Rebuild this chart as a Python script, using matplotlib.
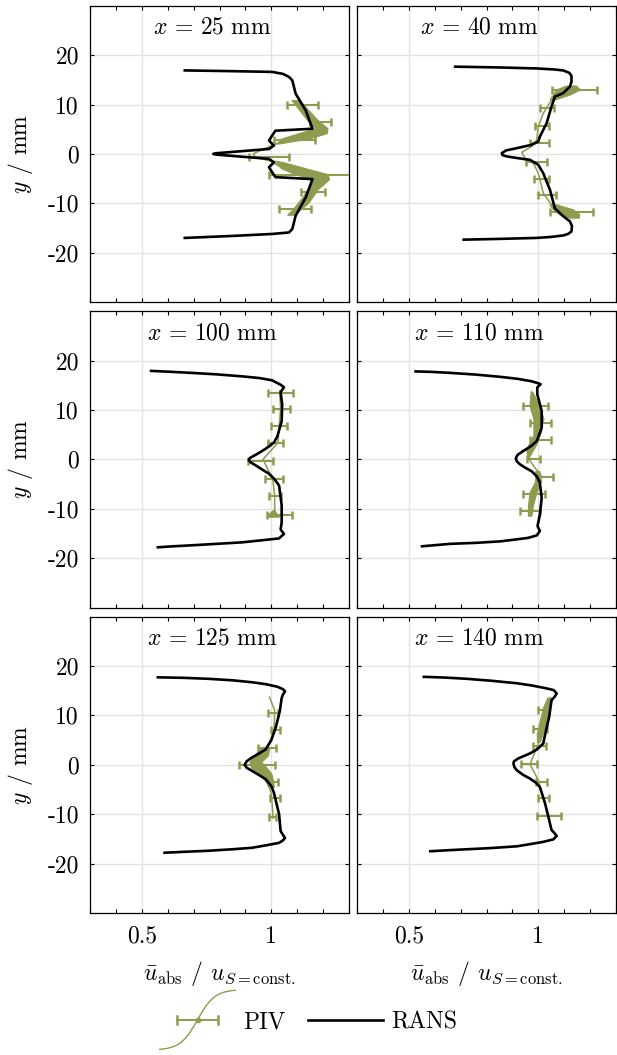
import numpy as np
import matplotlib.pyplot as plt
from matplotlib.legend_handler import HandlerBase
from matplotlib.lines import Line2D

plt.rcParams['font.family'] = 'cmr10'
plt.rcParams['mathtext.fontset'] = 'cm'
plt.rcParams['axes.formatter.use_mathtext'] = True

# axial positions of the six profiles
x_pos = [25, 40, 100, 110, 125, 140]

xticks = [0.5, 1.0]
xtick_labels = ['0.5', '1']
yticks = [-20, -10, 0, 10, 20]
ytick_labels = ['-20', '-10', '0', '10', '20']

# ---- x = 25 mm
rans_y_25 = [16.9, 16.75, 16.6, 16.2, 15.6, 14.9, 12.2, 8.8, 5.1, 4.7, 3.7, 2.7, 1.7, 1.0, 0.45, 0.15, 0.0,
             -0.15, -0.45, -1.0, -1.7, -2.7, -3.7, -4.7, -5.1, -8.8, -12.5, -15.2, -15.9, -16.2, -16.6, -17.0]
rans_u_25 = [0.666, 0.85, 1.003, 1.045, 1.068, 1.081, 1.094, 1.133, 1.159, 1.016, 1.003, 0.991, 1.010, 0.991, 0.86, 0.79, 0.776,
             0.79, 0.86, 0.991, 1.010, 0.991, 1.003, 1.016, 1.159, 1.133, 1.094, 1.081, 1.068, 1.003, 0.85, 0.666]
piv_y_25 = [10.8, 6.8, 4.8, 3.4, 2.3, 1.0, 0.0, -0.7, -1.5, -2.5, -3.5, -4.6, -6.5, -9.0, -12.4]
piv_u_25 = [1.09, 1.16, 1.19, 1.10, 1.03, 0.97, 0.93, 0.94, 1.00, 1.03, 1.10, 1.19, 1.17, 1.12, 1.07]
band_y_25 = [10.8, 6.8, 5.1, 4.1, 3.0, 2.35, 2.0, np.nan, -1.5, -1.8, -3.0, -4.2, -5.2, -7.3, -10.0, -12.4]
band_lo_25 = [1.08, 1.14, 1.173, 1.108, 1.04, 1.029, 1.02, np.nan, 1.01, 1.02, 1.04, 1.094, 1.16, 1.14, 1.11, 1.063]
band_hi_25 = [1.11, 1.18, 1.219, 1.216, 1.145, 1.07, 1.03, np.nan, 1.02, 1.05, 1.134, 1.219, 1.225, 1.18, 1.145, 1.09]
err_y_25 = [10.0, 6.4, 2.8, -0.6, -4.2, -7.8, -11.2]
err_u_25 = [1.12, 1.19, 1.09, 0.99, 1.18, 1.16, 1.09]
err_e_25 = [0.06, 0.04, 0.08, 0.078, 0.19, 0.047, 0.062]

# ---- x = 40 mm
rans_y_40 = [17.66, 17.5, 17.3, 17.1, 16.9, 16.4, 15.8, 14.6, 13.6, 12.3, 11.6, 9.6, 6.2, 3.5, 2.5, 1.84, 1.17, 0.7,
             0.15, -0.25, -0.5, -0.85, -1.2, -2.2, -3.9, -7.25, -11.0, -12.6, -13.65, -14.6, -15.7, -16.2, -16.5,
             -16.8, -17.0, -17.2, -17.35]
rans_u_40 = [0.679, 0.85, 0.994, 1.06, 1.096, 1.12, 1.128, 1.128, 1.122, 1.096, 1.064, 1.051, 1.032, 1.006, 1.0, 0.974,
             0.917, 0.875, 0.859, 0.862, 0.878, 0.92, 0.968, 1.0, 1.019, 1.045, 1.064, 1.096, 1.122, 1.13, 1.128,
             1.115, 1.096, 1.05, 0.994, 0.85, 0.712]
piv_y_40 = [13.3, 10.9, 8.2, 5.5, 2.85, 1.5, 0.3, -0.86, -1.9, -3.9, -7.9, -10.3, -12.6]
piv_u_40 = [1.13, 1.051, 1.019, 1.0, 0.994, 0.974, 0.936, 0.949, 0.981, 1.0, 1.019, 1.051, 1.14]
band_y_40 = [13.75, 12.95, 11.9, 10.9, np.nan, -10.3, -11.3, -12.3, -13.0]
band_lo_40 = [1.109, 1.071, 1.058, 1.045, np.nan, 1.045, 1.058, 1.083, 1.122]
band_hi_40 = [1.147, 1.163, 1.122, 1.064, np.nan, 1.071, 1.135, 1.16, 1.158]
err_y_40 = [12.95, 9.25, 5.7, 2.2, -1.7, -5.1, -8.3, -11.8]
err_u_40 = [1.138, 1.033, 1.015, 1.005, 0.993, 1.013, 1.033, 1.128]
err_e_40 = [0.087, 0.027, 0.028, 0.037, 0.042, 0.028, 0.035, 0.083]

# ---- x = 100 mm
rans_y_100 = [17.9, 17.7, 17.5, 17.2, 16.8, 16.45, 16.0, 15.1, 14.6, 13.6, 11.1, 7.7, 4.6, 3.4, 2.6, 1.7, 0.9,
              0.3, -0.15, -0.6, -1.2, -2.0, -2.9, -4.0, -5.3, -9.3, -12.8, -14.2, -15.1, -16.0, -16.4, -16.8,
              -17.1, -17.4, -17.6, -17.8]
rans_u_100 = [0.536, 0.62, 0.692, 0.79, 0.887, 0.955, 1.003, 1.036, 1.049, 1.036, 1.042, 1.040, 1.023, 1.01, 0.991,
              0.965, 0.939, 0.918, 0.913, 0.92, 0.939, 0.963, 0.991, 1.012, 1.030, 1.040, 1.040, 1.036, 1.049,
              1.030, 0.96, 0.887, 0.79, 0.692, 0.62, 0.562]
piv_y_100 = [13.9, 10.2, 6.8, 3.4, 0.0, -4.1, -7.4, -11.5]
piv_u_100 = [1.032, 1.036, 1.03, 1.026, 0.968, 1.006, 1.013, 1.013]
band_y_100 = [-10.3, -11.0, -11.6]
band_lo_100 = [1.005, 0.99, 0.985]
band_hi_100 = [1.012, 1.02, 1.03]
err_y_100 = [13.5, 10.15, 6.8, 3.4, -0.3, -3.9, -7.4, -11.2]
err_u_100 = [1.035, 1.039, 1.03, 1.016, 0.958, 1.01, 1.016, 1.03]
err_e_100 = [0.048, 0.032, 0.032, 0.029, 0.048, 0.036, 0.023, 0.048]

# ---- x = 110 mm
rans_y_110 = [17.8, 17.7, 17.5, 17.15, 16.7, 16.3, 15.8, 15.4, 15.2, 14.8, 14.5, 13.2, 9.8, 6.4, 3.7, 2.6, 1.7,
              0.9, 0.2, -0.4, -1.0, -1.7, -2.4, -3.5, -4.7, -7.8, -11.2, -13.5, -14.5, -15.4, -15.9, -16.3,
              -16.6, -16.9, -17.1, -17.6]
rans_u_110 = [0.526, 0.59, 0.660, 0.76, 0.853, 0.92, 0.974, 1.0, 1.009, 1.0, 0.996, 0.996, 1.013, 1.013, 0.994,
              0.97, 0.942, 0.92, 0.913, 0.917, 0.929, 0.95, 0.974, 0.995, 1.006, 1.013, 1.006, 0.997, 1.006,
              0.994, 0.96, 0.9, 0.853, 0.76, 0.660, 0.551]
piv_y_110 = [13.7, 9.1, 5.75, 3.0, 0.2, -1.7, -3.4, -5.75, -9.1, -11.2]
piv_u_110 = [0.974, 0.994, 1.013, 0.994, 0.962, 0.987, 1.013, 0.987, 0.968, 0.968]
band_y_110 = [13.5, 10.8, 8.1, 4.8, 2.0, 0.5, np.nan, -2.5, -4.5, -6.8, -9.5, -11.5]
band_lo_110 = [0.972, 0.968, 0.983, 0.983, 0.955, 0.96, np.nan, 0.99, 0.99, 0.968, 0.962, 0.962]
band_hi_110 = [0.98, 1.006, 1.022, 1.006, 0.981, 0.966, np.nan, 1.006, 1.013, 0.994, 0.981, 0.975]
err_y_110 = [10.8, 7.4, 3.9, 0.0, -3.6, -7.0, -10.4]
err_u_110 = [0.990, 1.008, 1.008, 0.981, 1.024, 0.983, 0.968]
err_e_110 = [0.048, 0.04, 0.04, 0.026, 0.031, 0.042, 0.038]

# ---- x = 125 mm
rans_y_125 = [17.7, 17.6, 17.4, 17.1, 16.7, 16.3, 15.8, 15.3, 14.85, 14.2, 13.5, 10.9, 7.5, 5.0, 3.1, 2.2, 1.5,
              0.7, 0.0, -0.6, -1.25, -2.0, -2.9, -4.3, -5.65, -10.0, -13.4, -14.2, -14.8, -15.3, -15.8, -16.3,
              -16.8, -17.1, -17.4, -17.6, -17.8]
rans_u_125 = [0.562, 0.66, 0.757, 0.85, 0.926, 0.98, 1.023, 1.045, 1.053, 1.045, 1.040, 1.033, 1.017, 1.0, 0.978,
              0.95, 0.926, 0.905, 0.897, 0.905, 0.926, 0.95, 0.978, 1.0, 1.010, 1.030, 1.036, 1.045, 1.053, 1.045,
              1.030, 0.98, 0.926, 0.85, 0.757, 0.67, 0.588]
piv_y_125 = [13.7, 11.0, 7.0, 3.6, 0.3, -3.1, -5.8, -9.8, -10.8]
piv_u_125 = [0.993, 1.013, 1.011, 0.987, 0.929, 0.981, 1.0, 1.006, 1.006]
band_y_125 = [3.6, 1.9, 0.6, -0.55, -1.75, -3.1, -4.5]
band_lo_125 = [0.961, 0.935, 0.916, 0.922, 0.948, 0.974, 0.993]
band_hi_125 = [0.993, 0.987, 0.961, 0.981, 1.0, 1.006, 1.01]
err_y_125 = [10.4, 7.0, 3.3, -0.1, -3.45, -6.8, -10.5]
err_u_125 = [1.006, 1.016, 0.983, 0.945, 1.006, 1.013, 1.006]
err_e_125 = [0.019, 0.016, 0.036, 0.068, 0.019, 0.019, 0.013]

# ---- x = 140 mm
rans_y_140 = [17.8, 17.65, 17.4, 17.0, 16.5, 16.05, 15.6, 15.3, 15.1, 14.4, 13.7, 13.05, 9.7, 7.0, 4.3, 3.1, 2.3,
              1.3, 0.7, 0.25, -0.5, -1.1, -2.0, -2.8, -3.6, -4.5, -7.8, -11.2, -13.2, -13.8, -14.4, -15.1,
              -15.6, -16.05, -16.5, -16.85, -17.1, -17.3, -17.5]
rans_u_140 = [0.558, 0.64, 0.724, 0.82, 0.917, 0.975, 1.019, 1.045, 1.060, 1.071, 1.062, 1.051, 1.042, 1.03, 1.019,
              0.995, 0.968, 0.923, 0.906, 0.904, 0.908, 0.917, 0.94, 0.968, 0.99, 1.006, 1.026, 1.042, 1.051,
              1.062, 1.071, 1.058, 1.019, 0.97, 0.917, 0.82, 0.724, 0.65, 0.583]
piv_y_140 = [13.6, 9.7, 4.3, 0.1, -3.1, -6.5, -10.2]
piv_u_140 = [1.045, 1.019, 1.0, 0.968, 1.0, 1.019, 1.038]
band_y_140 = [13.6, 11.7, 9.0, 6.3, 4.6]
band_lo_140 = [1.035, 1.019, 1.006, 0.994, 0.995]
band_hi_140 = [1.051, 1.045, 1.032, 1.017, 1.005]
err_y_140 = [11.0, 7.3, 3.75, 0.1, -3.45, -6.8, -10.4]
err_u_140 = [1.021, 1.006, 1.004, 0.965, 1.012, 1.021, 1.040]
err_e_140 = [0.021, 0.028, 0.026, 0.030, 0.021, 0.021, 0.046]

panels = [
    (rans_y_25, rans_u_25, piv_y_25, piv_u_25, band_y_25, band_lo_25, band_hi_25, err_y_25, err_u_25, err_e_25),
    (rans_y_40, rans_u_40, piv_y_40, piv_u_40, band_y_40, band_lo_40, band_hi_40, err_y_40, err_u_40, err_e_40),
    (rans_y_100, rans_u_100, piv_y_100, piv_u_100, band_y_100, band_lo_100, band_hi_100, err_y_100, err_u_100, err_e_100),
    (rans_y_110, rans_u_110, piv_y_110, piv_u_110, band_y_110, band_lo_110, band_hi_110, err_y_110, err_u_110, err_e_110),
    (rans_y_125, rans_u_125, piv_y_125, piv_u_125, band_y_125, band_lo_125, band_hi_125, err_y_125, err_u_125, err_e_125),
    (rans_y_140, rans_u_140, piv_y_140, piv_u_140, band_y_140, band_lo_140, band_hi_140, err_y_140, err_u_140, err_e_140),
]

green = '#8d9c4f'
fs = 17


class PivHandler(HandlerBase):
    # errorbar with the s-shaped line behind it, as in the original legend
    def create_artists(self, legend, orig_handle, xdescent, ydescent, width, height, fontsize, trans):
        x0 = -xdescent
        yc = -ydescent + height / 2
        xc = x0 + width / 2
        t = np.linspace(-1, 1, 41)
        s = np.tanh(2.2 * t) / np.tanh(2.2)
        curve = Line2D(x0 + width * (t + 1) / 2, yc + 1.25 * fontsize * s, color=green, lw=1.0)
        e = 0.27 * width
        c = 0.18 * fontsize
        bar = Line2D([xc - e, xc + e], [yc, yc], color=green, lw=1.4)
        cap1 = Line2D([xc - e, xc - e], [yc - c, yc + c], color=green, lw=1.8)
        cap2 = Line2D([xc + e, xc + e], [yc - c, yc + c], color=green, lw=1.8)
        dot = Line2D([xc], [yc], color=green, marker='o', ms=3, lw=0)
        arts = [curve, bar, cap1, cap2, dot]
        for a in arts:
            a.set_transform(trans)
        return arts


fig, axes = plt.subplots(3, 2, figsize=(6.17, 10.55), dpi=100, sharex=True, sharey=True)
fig.subplots_adjust(left=90 / 617, right=616 / 617, top=1 - 5.7 / 1055, bottom=1 - 913 / 1055,
                    wspace=8 / 259, hspace=9 / 297)

for k, ax in enumerate(axes.flat):
    ry, ru, py, pu, by, blo, bhi, ey, eu, ee = panels[k]
    ax.fill_betweenx(by, blo, bhi, color=green, lw=0.8, edgecolor=green, zorder=3)
    ax.plot(pu, py, color=green, lw=1.1, zorder=3)
    ax.errorbar(eu, ey, xerr=ee, fmt='none', ecolor=green, elinewidth=1.5,
                capsize=3, capthick=1.8, zorder=3)
    ax.plot(ru, ry, color='black', lw=1.9, zorder=4, solid_joinstyle='round')

    ax.set_xlim(0.3, 1.3)
    ax.set_ylim(-30, 30)
    ax.set_xticks(xticks)
    ax.set_xticks(np.arange(0.3, 1.31, 0.1), minor=True)
    ax.set_xticklabels(xtick_labels)
    ax.set_yticks(yticks)
    ax.set_yticklabels(ytick_labels)
    ax.tick_params(which='both', direction='in', top=True, right=True, length=3, width=0.8,
                   labelsize=fs)
    ax.tick_params(axis='x', pad=9)
    ax.tick_params(axis='y', pad=8)
    ax.grid(True, which='major', color='#e3e3e3', lw=1.0)
    ax.set_axisbelow(True)
    for sp in ax.spines.values():
        sp.set_linewidth(0.9)
    ax.text(0.47, 0.925, r'$x\,=\,%d\ \mathrm{mm}$' % x_pos[k], transform=ax.transAxes,
            ha='center', va='center', fontsize=fs)
    if k % 2 == 0:
        ax.set_ylabel(r'$y$ / mm', fontsize=fs)
        ax.yaxis.set_label_coords(-0.212, 0.5)
    if k >= 4:
        ax.set_xlabel(r'$\bar{u}_\mathrm{abs}$ / $u_{S=\mathrm{const.}}$', fontsize=fs)
        ax.xaxis.set_label_coords(0.5, -0.155)

piv_proxy = Line2D([], [], color=green)
rans_proxy = Line2D([], [], color='black', lw=1.9)
fig.legend([piv_proxy, rans_proxy], ['PIV', 'RANS'], loc='center',
           bbox_to_anchor=(0.5, 1 - 1022 / 1055), ncol=2, frameon=False,
           handlelength=3.2, handletextpad=0.34, columnspacing=0.93, fontsize=fs,
           handler_map={piv_proxy: PivHandler()})

fig.savefig('out.png', dpi=100)
